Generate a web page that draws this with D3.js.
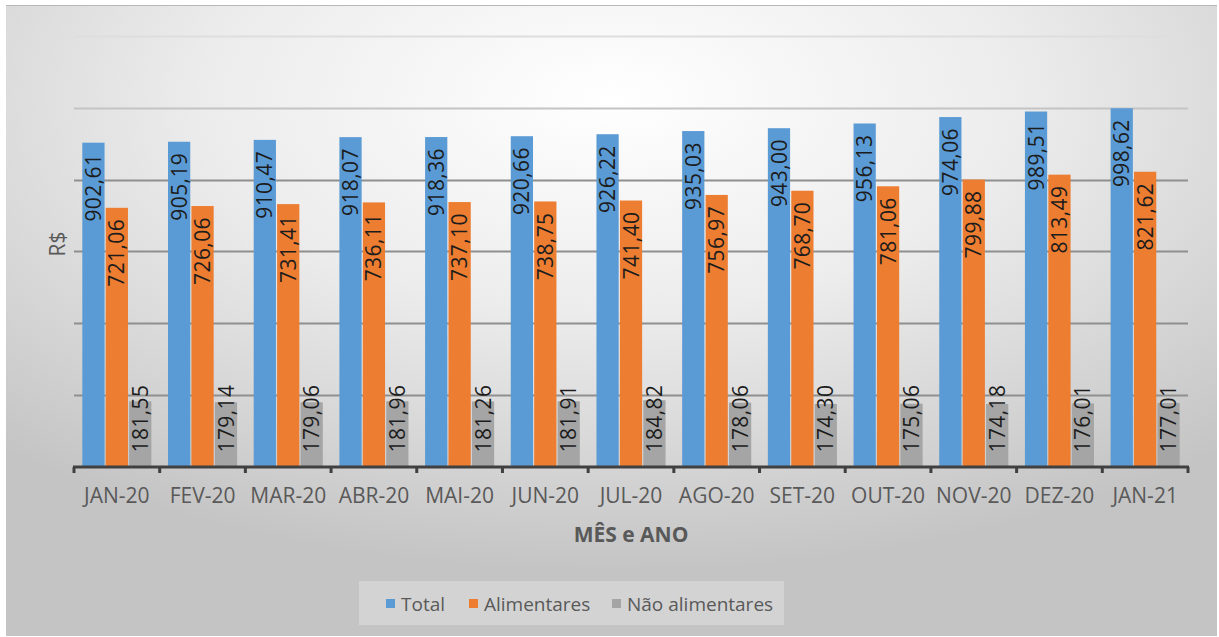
<!DOCTYPE html>
<html><head><meta charset="utf-8">
<script src="https://cdn.jsdelivr.net/npm/d3@7"></script>
<style>html,body{margin:0;padding:0;background:#fff;}svg{display:block;}</style>
</head><body>
<script>
const categories = ["JAN-20","FEV-20","MAR-20","ABR-20","MAI-20","JUN-20","JUL-20","AGO-20","SET-20","OUT-20","NOV-20","DEZ-20","JAN-21"];
const total = [902.61,905.19,910.47,918.07,918.36,920.66,926.22,935.03,943.00,956.13,974.06,989.51,998.62];
const alimentares = [721.06,726.06,731.41,736.11,737.10,738.75,741.40,756.97,768.70,781.06,799.88,813.49,821.62];
const naoAlimentares = [181.55,179.14,179.06,181.96,181.26,181.91,184.82,178.06,174.30,175.06,174.18,176.01,177.01];
const seriesNames = ["Total","Alimentares","Não alimentares"];
const seriesColors = ["#5b9bd5","#ed7d31","#a5a5a5"];
const yTicks = [200,400,600,800,1000,1200];

const W = 1219, H = 637;
const FONT = "'Open Sans', sans-serif";
const svg = d3.select("body").append("svg").attr("width", W).attr("height", H);
const defs = svg.append("defs");
const grad = defs.append("radialGradient").attr("id","bg").attr("cx","50%").attr("cy","15%").attr("r","75%");
grad.append("stop").attr("offset","0%").attr("stop-color","#ffffff");
grad.append("stop").attr("offset","45%").attr("stop-color","#ececec");
grad.append("stop").attr("offset","100%").attr("stop-color","#c4c4c4");

svg.append("rect").attr("x",6).attr("y",5).attr("width",1211).attr("height",631).attr("fill","url(#bg)");
svg.append("line").attr("x1",6).attr("x2",1217).attr("y1",5.5).attr("y2",5.5).attr("stroke","#b8b8b8").attr("stroke-width",1);

const x0 = d3.scaleBand().domain(categories).range([74,1188]).padding(0);
const bw = x0.bandwidth();
const x1 = d3.scaleBand().domain(seriesNames).range([bw*0.097, bw*0.903]).paddingInner(0.05);
const y = d3.scaleLinear().domain([0,1200]).range([466.5, 36]);

// gridlines
svg.append("g").selectAll("line").data(yTicks).join("line")
  .attr("x1",74).attr("x2",1188)
  .attr("y1",d=>Math.round(y(d))+0.5).attr("y2",d=>Math.round(y(d))+0.5)
  .attr("stroke",d=> d>=1200 ? "#dedede" : d>=1000 ? "#c4c4c4" : "#8f8f8f")
  .attr("stroke-width",2);

const data = [total, alimentares, naoAlimentares];
const fmt = v => v.toFixed(2).replace(".", ",");

const groups = svg.append("g").selectAll("g").data(categories).join("g")
  .attr("transform", c => `translate(${x0(c)},0)`);

groups.each(function(c, i){
  const g = d3.select(this);
  seriesNames.forEach((s, k) => {
    const v = data[k][i];
    g.append("rect").attr("x", x1(s)).attr("width", x1.bandwidth())
      .attr("y", y(v)).attr("height", y(0)-y(v)).attr("fill", seriesColors[k]);
    const cx = x1(s) + x1.bandwidth()/2;
    const fits = (y(0) - y(v)) > 90;
    const ty = fits ? y(v) + 11 : y(0) - 14;
    g.append("text").attr("transform", `translate(${cx},${ty}) rotate(-90)`)
      .attr("text-anchor", fits ? "end" : "start").attr("dy","0.36em")
      .attr("font-family",FONT).attr("font-size",21).attr("letter-spacing","0.4px")
      .attr("fill","#1c1c1c").text(fmt(v));
  });
});

// x axis
const xAxis = svg.append("g").attr("transform","translate(0,467)");
xAxis.append("line").attr("x1",73).attr("x2",1189).attr("y1",0).attr("y2",0).attr("stroke","#404040").attr("stroke-width",3);
const tickPos = categories.map(c => x0(c)).concat([x0(categories[categories.length-1]) + bw]);
xAxis.selectAll("line.tick").data(tickPos).join("line").attr("class","tick")
  .attr("x1",d=>d).attr("x2",d=>d).attr("y1",0).attr("y2",6).attr("stroke","#404040").attr("stroke-width",3);
xAxis.selectAll("text").data(categories).join("text")
  .attr("x", c => x0(c) + bw/2).attr("y", 36)
  .attr("text-anchor","middle").attr("font-family",FONT).attr("font-size",21)
  .attr("fill","#595959").text(c => c);

svg.append("text").attr("x",631).attr("y",542).attr("text-anchor","middle")
  .attr("font-family",FONT).attr("font-size",21).attr("font-weight","bold")
  .attr("fill","#595959").text("MÊS e ANO");

svg.append("text").attr("transform","translate(65,244) rotate(-90)").attr("text-anchor","middle")
  .attr("font-family",FONT).attr("font-size",21)
  .attr("fill","#595959").text("R$");

// legend
const leg = svg.append("g");
leg.append("rect").attr("x",359).attr("y",581).attr("width",425).attr("height",44).attr("fill","#ffffff").attr("opacity",0.25);
const legX = [386, 469, 612];
seriesNames.forEach((s,k) => {
  leg.append("rect").attr("x",legX[k]).attr("y",599).attr("width",9).attr("height",9).attr("fill",seriesColors[k]);
  leg.append("text").attr("x",legX[k]+15).attr("y",604).attr("dy","0.36em")
    .attr("font-family",FONT).attr("font-size",19)
    .attr("fill","#595959").text(s);
});
</script>
</body></html>
